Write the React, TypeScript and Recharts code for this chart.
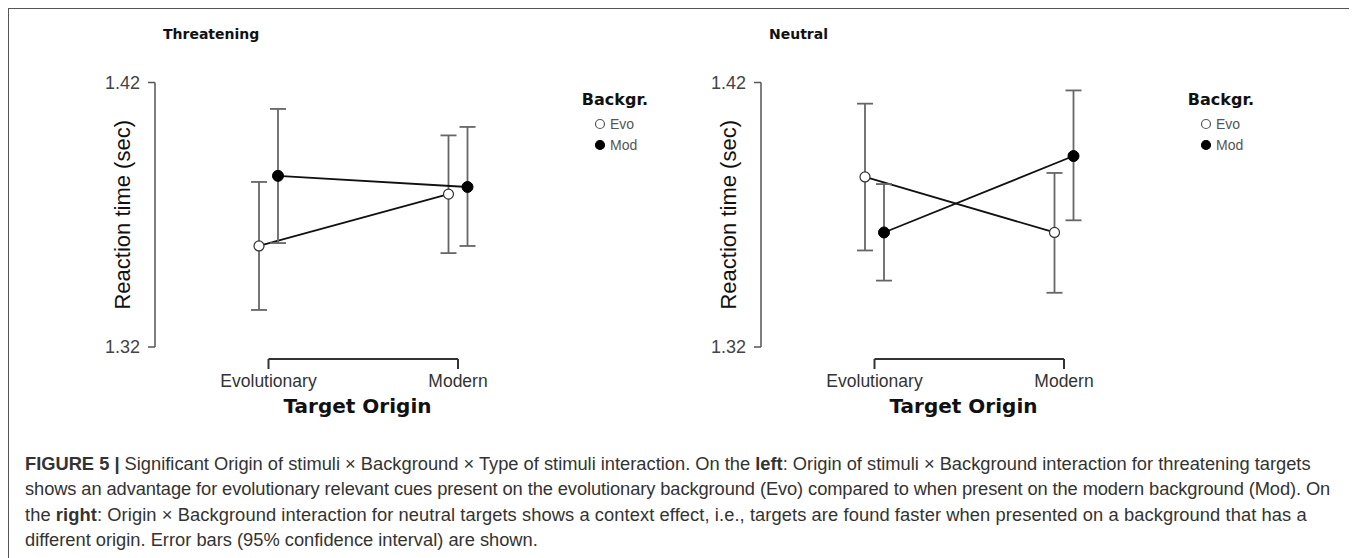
import React from 'react';
import { LineChart, Line, XAxis, YAxis, ErrorBar, Legend } from 'recharts';

// ---------- data ----------
const categories = ['Evolutionary', 'Modern'];
const seriesNames = ['Evo', 'Mod'];
const yTicks = [1.32, 1.42];

// Threatening targets
const thrEvoMean = [1.3582, 1.3778];
const thrEvoLow = [1.334, 1.3555];
const thrEvoHigh = [1.3824, 1.4];
const thrModMean = [1.3847, 1.3805];
const thrModLow = [1.3593, 1.3582];
const thrModHigh = [1.41, 1.4032];

// Neutral targets
const neuEvoMean = [1.3843, 1.3633];
const neuEvoLow = [1.3565, 1.3405];
const neuEvoHigh = [1.412, 1.3858];
const neuModMean = [1.3633, 1.3922];
const neuModLow = [1.3451, 1.3679];
const neuModHigh = [1.3816, 1.417];

// ---------- layout ----------
const CHART_W = 606;
const CHART_H = 420;
const Y_AXIS_W = 146;
const PLOT_W = 405;
const MARGIN = { top: 73.5, right: CHART_W - Y_AXIS_W - PLOT_W, bottom: 0, left: 0 };
const X_AXIS_H = 82;
const PAD_L = 113.5;
const PAD_R = 102;
const DODGE = 9.5;
const SPAN = PLOT_W - PAD_L - PAD_R;

const SANS = '"Liberation Sans", Arial, sans-serif';
const HEAVY = '"DejaVu Sans", sans-serif';

type Row = { origin: string; evo: number; evoErr: number[]; mod: number; modErr: number[] };

function buildRows(em: number[], el: number[], eh: number[], mm: number[], ml: number[], mh: number[]): Row[] {
  return categories.map((c, i) => ({
    origin: c,
    evo: em[i],
    evoErr: [em[i] - el[i], eh[i] - em[i]],
    mod: mm[i],
    modErr: [mm[i] - ml[i], mh[i] - mm[i]],
  }));
}

const BracketTick = (props: any) => {
  const { x, y, payload, index } = props;
  const top = y + 12;
  return (
    <g>
      {index === 0 && <line x1={x} y1={top} x2={x + SPAN} y2={top} stroke="#333" strokeWidth={2} />}
      <line x1={x} y1={top} x2={x} y2={top + 10} stroke="#333" strokeWidth={2} />
      <text x={x} y={top + 28} textAnchor="middle" fill="#333" fontSize={17.5} fontFamily={SANS}>
        {payload.value}
      </text>
    </g>
  );
};

const XTitle = (props: any) => {
  const vb = props.viewBox || {};
  return (
    <text x={vb.x + vb.width / 2} y={vb.y + 66} textAnchor="middle" fill="#111" fontSize={20}
      fontWeight="bold" fontFamily={HEAVY}>
      Target Origin
    </text>
  );
};

const YTitle = (props: any) => {
  const vb = props.viewBox || {};
  const cx = vb.x + 113;
  const cy = vb.y + vb.height / 2;
  return (
    <text x={cx} y={cy} transform={`rotate(-90, ${cx}, ${cy})`} textAnchor="middle"
      dominantBaseline="central" fill="#111" fontSize={22} fontFamily={SANS}>
      Reaction time (sec)
    </text>
  );
};

const LegendBox = (props: any) => {
  const payload = props.payload || [];
  return (
    <svg width={110} height={70} style={{ overflow: 'visible' }}>
      <text x={55} y={12} textAnchor="middle" fontFamily={HEAVY} fontWeight="bold" fontSize={16} fill="#111">
        Backgr.
      </text>
      {payload.map((p: any, i: number) => (
        <g key={p.value}>
          <circle cx={40} cy={31 + i * 21} r={4.5}
            fill={p.value === seriesNames[0] ? '#fff' : '#000'}
            stroke={p.value === seriesNames[0] ? '#555' : '#000'} strokeWidth={1.2} />
          <text x={50} y={36 + i * 21} fontFamily={SANS} fontSize={14} fill="#555">{p.value}</text>
        </g>
      ))}
    </svg>
  );
};

function Panel({ rows, left, title }: { rows: Row[]; left: number; title: string }) {
  return (
    <div style={{ position: 'absolute', left, top: 0, width: CHART_W, height: CHART_H }}>
      <div style={{ position: 'absolute', left: 154, top: 18, fontFamily: HEAVY, fontWeight: 'bold',
        fontSize: 14, lineHeight: '14px', color: '#111', whiteSpace: 'nowrap' }}>{title}</div>
      <LineChart width={CHART_W} height={CHART_H} data={rows} margin={MARGIN}
        style={{ fontFamily: SANS, position: 'absolute', left: 0, top: 0 }}>
        <XAxis xAxisId="main" dataKey="origin" type="category" interval={0}
          padding={{ left: PAD_L, right: PAD_R }} axisLine={false} tickLine={false}
          tickSize={0} tickMargin={0} height={X_AXIS_H} tick={<BracketTick />}
          label={{ content: <XTitle /> }} />
        <XAxis xAxisId="evo" dataKey="origin" type="category" hide height={0}
          padding={{ left: PAD_L - DODGE, right: PAD_R + DODGE }} />
        <XAxis xAxisId="mod" dataKey="origin" type="category" hide height={0}
          padding={{ left: PAD_L + DODGE, right: PAD_R - DODGE }} />
        <YAxis type="number" domain={[yTicks[0], yTicks[1]]} ticks={yTicks} width={Y_AXIS_W}
          tickFormatter={(v: number) => v.toFixed(2)} tickSize={7} tickMargin={8}
          axisLine={{ stroke: '#555', strokeWidth: 1.5 }} tickLine={{ stroke: '#555', strokeWidth: 1.5 }}
          tick={{ fill: '#444', fontSize: 18, fontFamily: SANS }}
          label={{ content: <YTitle /> }} />
        <Legend layout="vertical" align="center" verticalAlign="middle" content={<LegendBox />}
          wrapperStyle={{ position: 'absolute', left: 551, top: 84, width: 110, height: 70 }} />
        <Line xAxisId="evo" dataKey="evo" name={seriesNames[0]} stroke="#111" strokeWidth={1.8}
          dot={{ r: 5, fill: '#fff', stroke: '#333', strokeWidth: 1.2 }} activeDot={false}
          isAnimationActive={false}>
          <ErrorBar dataKey="evoErr" width={8} stroke="#666" strokeWidth={1.8} direction="y"
            isAnimationActive={false} />
        </Line>
        <Line xAxisId="mod" dataKey="mod" name={seriesNames[1]} stroke="#111" strokeWidth={1.8}
          dot={{ r: 5.5, fill: '#000', stroke: '#000', strokeWidth: 1 }} activeDot={false}
          isAnimationActive={false}>
          <ErrorBar dataKey="modErr" width={8} stroke="#666" strokeWidth={1.8} direction="y"
            isAnimationActive={false} />
        </Line>
      </LineChart>
    </div>
  );
}

const captionLine: React.CSSProperties = { whiteSpace: 'nowrap' };

export default function App() {
  const thr = buildRows(thrEvoMean, thrEvoLow, thrEvoHigh, thrModMean, thrModLow, thrModHigh);
  const neu = buildRows(neuEvoMean, neuEvoLow, neuEvoHigh, neuModMean, neuModLow, neuModHigh);
  return (
    <div style={{ position: 'relative', width: 1347, height: 560, border: '1px solid #555',
      boxSizing: 'border-box', background: '#fff', overflow: 'hidden' }}>
      <Panel rows={thr} left={0} title="Threatening" />
      <Panel rows={neu} left={606} title="Neutral" />
      <div style={{ position: 'absolute', left: 16, top: 442, fontFamily: SANS, fontSize: 18.3,
        lineHeight: '25.3px', color: '#333' }}>
        <div style={captionLine}><b>FIGURE 5 |</b> Significant Origin of stimuli × Background × Type of stimuli interaction. On the <b>left</b>: Origin of stimuli × Background interaction for threatening targets</div>
        <div style={{ ...captionLine, letterSpacing: '-0.09px' }}>shows an advantage for evolutionary relevant cues present on the evolutionary background (Evo) compared to when present on the modern background (Mod). On</div>
        <div style={{ ...captionLine, letterSpacing: '0.09px' }}>the <b>right</b>: Origin × Background interaction for neutral targets shows a context effect, i.e., targets are found faster when presented on a background that has a</div>
        <div style={captionLine}>different origin. Error bars (95% confidence interval) are shown.</div>
      </div>
    </div>
  );
}
